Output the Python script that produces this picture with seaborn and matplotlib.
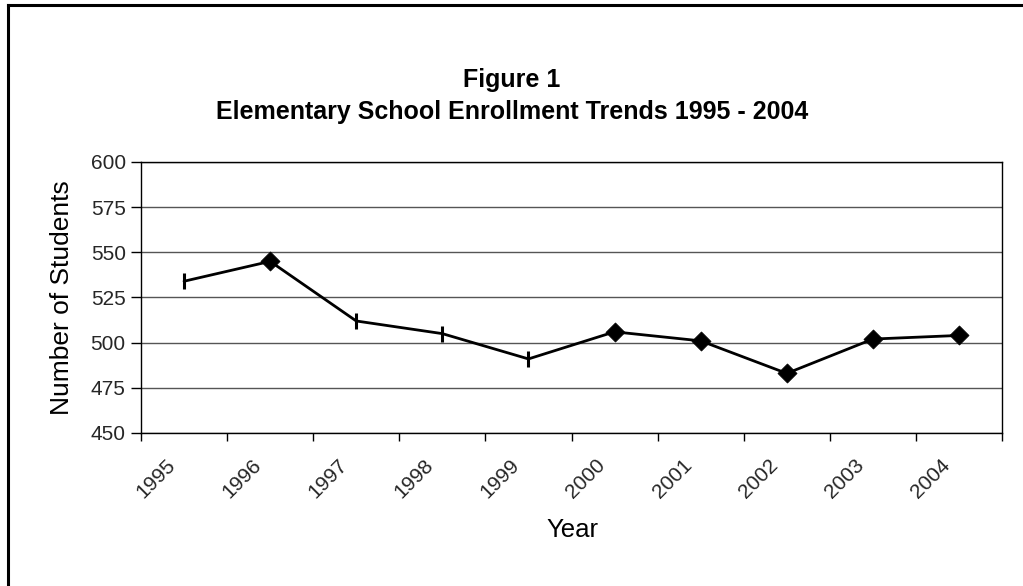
import matplotlib
matplotlib.use("Agg")
import matplotlib.pyplot as plt
from matplotlib.lines import Line2D
from matplotlib.transforms import ScaledTranslation
import seaborn as sns
import pandas as pd

# Enrollment data
years = ["1995", "1996", "1997", "1998", "1999", "2000", "2001", "2002", "2003", "2004"]
students = [534, 545, 512, 505, 491, 506, 501, 483, 502, 504]
point_marker = ["tick", "diamond", "tick", "tick", "tick",
                "diamond", "diamond", "diamond", "diamond", "diamond"]
y_ticks = [450, 475, 500, 525, 550, 575, 600]

sns.set_theme(style="white")
plt.rcParams["font.family"] = ["Liberation Sans", "DejaVu Sans"]

df = pd.DataFrame({"pos": range(len(years)), "year": years,
                   "students": students, "kind": point_marker})

W, H = 1023, 586
fig = plt.figure(figsize=(W / 100, H / 100), dpi=100)
fig.patch.set_facecolor("white")
ax = fig.add_axes([141 / W, 1 - 433 / H, (1002 - 141) / W, (433 - 162) / H])
ax.set_facecolor("white")

sns.lineplot(data=df, x="pos", y="students", color="black", linewidth=2.0,
             ax=ax, legend=False, zorder=3)
# Vertical-bar markers and filled diamonds are drawn in two passes
sns.scatterplot(data=df[df["kind"] == "tick"], x="pos", y="students",
                marker="|", color="black", s=120, linewidth=2.2,
                ax=ax, legend=False, zorder=4)
sns.scatterplot(data=df[df["kind"] == "diamond"], x="pos", y="students",
                marker="D", color="black", s=95, linewidth=0.5,
                edgecolor="black", ax=ax, legend=False, zorder=4)

ax.set_xlim(-0.5, len(years) - 0.5)
ax.set_ylim(y_ticks[0], y_ticks[-1])
ax.set_yticks(y_ticks)
ax.set_yticklabels([str(v) for v in y_ticks], fontsize=15)

# Category labels at centres, tick marks at category boundaries
ax.set_xticks(range(len(years)))
ax.set_xticklabels(years, fontsize=15, rotation=45, ha="right",
                   va="center", rotation_mode="anchor")
ax.set_xticks([i - 0.5 for i in range(len(years) + 1)], minor=True)
ax.tick_params(axis="x", which="major", length=0, pad=21)
ax.tick_params(axis="x", which="minor", length=6, width=1, color="black",
               direction="out", bottom=True)
ax.tick_params(axis="y", which="major", length=7, width=1, color="black",
               direction="out", left=True, pad=4)
for lab in ax.get_xticklabels():
    lab.set_transform(lab.get_transform() + ScaledTranslation(-12 / 100, 0, fig.dpi_scale_trans))

ax.yaxis.grid(True, color="#555555", linewidth=1)
ax.xaxis.grid(False)
ax.set_axisbelow(True)
for sp in ax.spines.values():
    sp.set_visible(True)
    sp.set_color("black")
    sp.set_linewidth(1)

ax.set_xlabel("")
ax.set_ylabel("")
fig.text(62 / W, 1 - 298 / H, "Number of Students", rotation=90,
         ha="center", va="center", fontsize=19, color="black")
fig.text(572 / W, 1 - 530 / H, "Year", ha="center", va="center",
         fontsize=18.5, color="black")

fig.text(512 / W, 1 - 80 / H, "Figure 1", ha="center", va="center",
         fontsize=18, fontweight="bold", color="black")
fig.text(512 / W, 1 - 112 / H, "Elementary School Enrollment Trends 1995 - 2004",
         ha="center", va="center", fontsize=18, fontweight="bold", color="black")

# Frame around the chart area (left and top edges)
fig.add_artist(Line2D([8 / W, 8 / W], [0, 1 - 5 / H], transform=fig.transFigure,
                      color="black", linewidth=2.2, solid_capstyle="projecting"))
fig.add_artist(Line2D([8 / W, 1], [1 - 5 / H, 1 - 5 / H], transform=fig.transFigure,
                      color="black", linewidth=2.2, solid_capstyle="projecting"))

fig.savefig("out.png", dpi=100, facecolor="white")
